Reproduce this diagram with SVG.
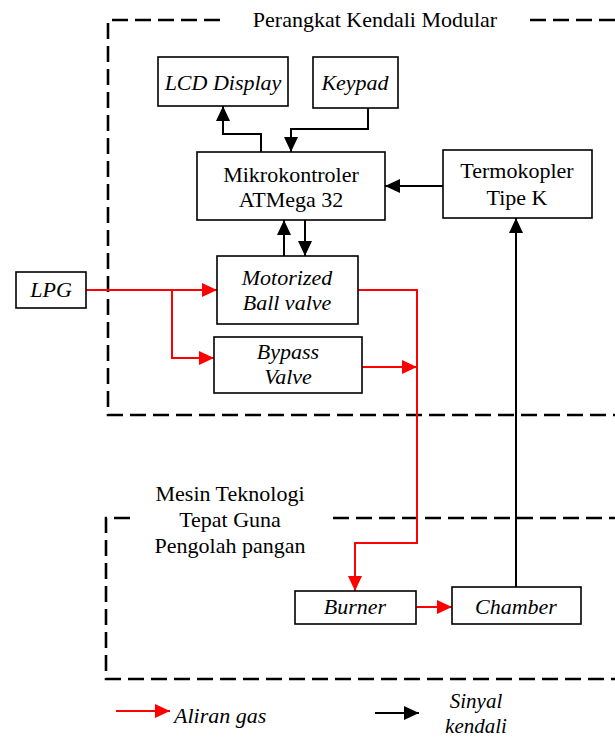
<svg xmlns="http://www.w3.org/2000/svg" width="615" height="738" viewBox="0 0 615 738">
<style>
.box{fill:#fff;stroke:#000;stroke-width:1.6}
.dash{fill:none;stroke:#000;stroke-width:2.6;stroke-dasharray:16 7}
.t{font-family:"Liberation Serif","Times New Roman","DejaVu Serif",serif;font-size:22px;fill:#000;text-anchor:middle}
.i{font-style:italic}
.blk{fill:none;stroke:#000;stroke-width:2}
.red{fill:none;stroke:#f00;stroke-width:2}
</style>
<defs>
<marker id="ab" markerUnits="userSpaceOnUse" markerWidth="16" markerHeight="14" refX="15" refY="7" orient="auto"><path d="M0,0 L15,7 L0,14 Z" fill="#000"/></marker>
<marker id="ar" markerUnits="userSpaceOnUse" markerWidth="16" markerHeight="14" refX="15" refY="7" orient="auto"><path d="M0,0 L15,7 L0,14 Z" fill="#f00"/></marker>
</defs>
<g id="frames">
<path class="dash" d="M220,20 H108 V415 H615"/>
<path class="dash" d="M530,20 H615"/>
<text class="t" x="375" y="27">Perangkat Kendali Modular</text>
<path class="dash" d="M130,518 H106 V679 H615"/>
<path class="dash" d="M333,518 H615"/>
<text class="t" x="230" y="501">Mesin Teknologi</text>
<text class="t" x="230" y="527">Tepat Guna</text>
<text class="t" x="230" y="553">Pengolah pangan</text>
</g>
<g id="connectors">
<path class="blk" d="M261,152 V134 H223 V106" marker-end="url(#ab)"/>
<path class="blk" d="M368,108 V129 H291 V152" marker-end="url(#ab)"/>
<path class="blk" d="M443,186 H385" marker-end="url(#ab)"/>
<path class="blk" d="M284,256 V220" marker-end="url(#ab)"/>
<path class="blk" d="M305,220 V256" marker-end="url(#ab)"/>
<path class="blk" d="M516,587 V218" marker-end="url(#ab)"/>
<path class="red" d="M86,290 H217" marker-end="url(#ar)"/>
<path class="red" d="M172,290 V358 H214" marker-end="url(#ar)"/>
<path class="red" d="M358,290 H417 V543 H355 V591" marker-end="url(#ar)"/>
<path class="red" d="M362,367 H417" marker-end="url(#ar)"/>
<path class="red" d="M416,607 H452" marker-end="url(#ar)"/>
</g>
<g id="lcd"><rect class="box" x="158" y="57" width="130" height="49"/><text class="t i" x="223" y="90">LCD Display</text></g>
<g id="keypad"><rect class="box" x="313" y="57" width="85" height="51"/><text class="t i" x="355" y="90">Keypad</text></g>
<g id="mikro"><rect class="box" x="197" y="152" width="188" height="68"/><text class="t" x="291" y="182">Mikrokontroler</text><text class="t" x="291" y="207">ATMega 32</text></g>
<g id="termo"><rect class="box" x="443" y="150" width="149" height="68"/><text class="t" x="517" y="178">Termokopler</text><text class="t" x="517" y="205">Tipe K</text></g>
<g id="lpg"><rect class="box" x="16" y="272" width="70" height="36"/><text class="t i" x="51" y="297">LPG</text></g>
<g id="motor"><rect class="box" x="217" y="256" width="141" height="68"/><text class="t i" x="287" y="285">Motorized</text><text class="t i" x="287" y="310">Ball valve</text></g>
<g id="bypass"><rect class="box" x="214" y="337" width="148" height="56"/><text class="t i" x="288" y="359">Bypass</text><text class="t i" x="288" y="384">Valve</text></g>
<g id="burner"><rect class="box" x="295" y="591" width="121" height="33"/><text class="t i" x="355" y="614">Burner</text></g>
<g id="chamber"><rect class="box" x="452" y="587" width="129" height="37"/><text class="t i" x="516" y="614">Chamber</text></g>
<g id="legend">
<path class="red" d="M116,711 H170" marker-end="url(#ar)"/>
<text class="t i" x="174" y="723" style="text-anchor:start">Aliran gas</text>
<path class="blk" d="M375,713 H419" marker-end="url(#ab)"/>
<text class="t i" x="476" y="708" style="font-size:21px">Sinyal</text>
<text class="t i" x="476" y="733" style="font-size:21px">kendali</text>
</g>
</svg>
